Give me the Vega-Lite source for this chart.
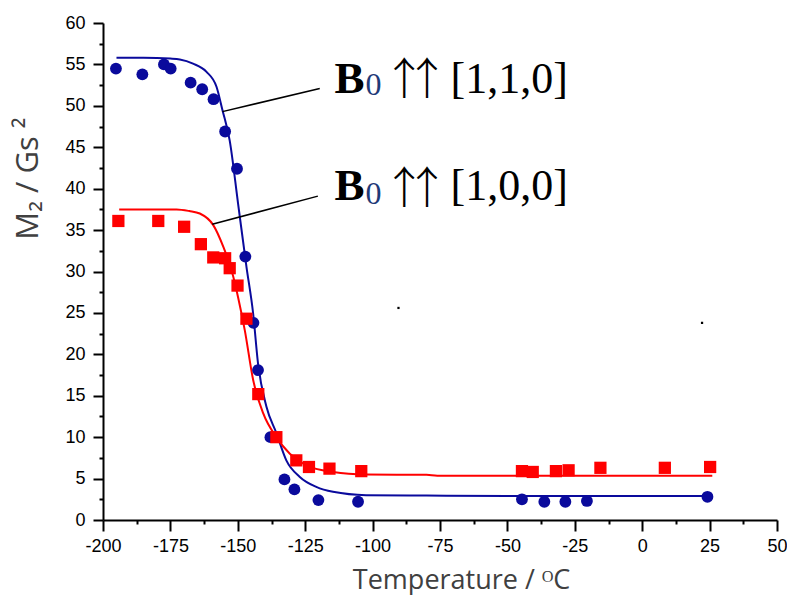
{
  "$schema": "https://vega.github.io/schema/vega-lite/v6.json",
  "width": 674,
  "height": 497,
  "autosize": {"type": "none"},
  "padding": {"left": 103, "top": 23, "right": 10, "bottom": 75},
  "background": "white",
  "config": {"view": {"stroke": null}},
  "datasets": {
    "fit": [
      {"series": "110", "x": -195, "y": 55.8}, {"series": "110", "x": -185, "y": 55.8}, {"series": "110", "x": -175, "y": 55.7},
      {"series": "110", "x": -171.5, "y": 55.6}, {"series": "110", "x": -166.6, "y": 55.1}, {"series": "110", "x": -161.6, "y": 54.1},
      {"series": "110", "x": -157.9, "y": 52.3}, {"series": "110", "x": -155.7, "y": 49.5}, {"series": "110", "x": -153, "y": 45.8},
      {"series": "110", "x": -149.9, "y": 38.2}, {"series": "110", "x": -146.8, "y": 30.6}, {"series": "110", "x": -144.3, "y": 24.9},
      {"series": "110", "x": -142.5, "y": 18.9}, {"series": "110", "x": -139.4, "y": 13.7}, {"series": "110", "x": -135.7, "y": 10.5},
      {"series": "110", "x": -132, "y": 7.2}, {"series": "110", "x": -127, "y": 5.2}, {"series": "110", "x": -120.9, "y": 4.0},
      {"series": "110", "x": -114.7, "y": 3.4}, {"series": "110", "x": -102.4, "y": 3.0}, {"series": "110", "x": -80, "y": 2.95},
      {"series": "110", "x": -50, "y": 2.9}, {"series": "110", "x": 0, "y": 2.9}, {"series": "110", "x": 24, "y": 2.9},
      {"series": "100", "x": -194, "y": 37.5}, {"series": "100", "x": -180, "y": 37.5}, {"series": "100", "x": -172.7, "y": 37.5},
      {"series": "100", "x": -168, "y": 37.3}, {"series": "100", "x": -164.1, "y": 37.0}, {"series": "100", "x": -159.1, "y": 35.6},
      {"series": "100", "x": -155.4, "y": 33.0}, {"series": "100", "x": -151.7, "y": 29.4}, {"series": "100", "x": -149.9, "y": 26.9},
      {"series": "100", "x": -147.4, "y": 22.9}, {"series": "100", "x": -144.3, "y": 16.9}, {"series": "100", "x": -140.6, "y": 12.9},
      {"series": "100", "x": -135.7, "y": 10.0}, {"series": "100", "x": -130.7, "y": 8.0}, {"series": "100", "x": -124.6, "y": 6.6},
      {"series": "100", "x": -114.7, "y": 5.8}, {"series": "100", "x": -102.4, "y": 5.5}, {"series": "100", "x": -80, "y": 5.45},
      {"series": "100", "x": -76, "y": 5.35}, {"series": "100", "x": 0, "y": 5.35}, {"series": "100", "x": 26, "y": 5.35}
    ],
    "points": [
      {"series": "110", "x": -195.2, "y": 54.5}, {"series": "110", "x": -185.4, "y": 53.8}, {"series": "110", "x": -177.4, "y": 55.0},
      {"series": "110", "x": -174.9, "y": 54.5}, {"series": "110", "x": -167.5, "y": 52.8}, {"series": "110", "x": -163.2, "y": 52.0},
      {"series": "110", "x": -159.0, "y": 50.8}, {"series": "110", "x": -154.7, "y": 46.9}, {"series": "110", "x": -150.3, "y": 42.4},
      {"series": "110", "x": -147.2, "y": 31.8}, {"series": "110", "x": -144.2, "y": 23.8}, {"series": "110", "x": -142.5, "y": 18.1},
      {"series": "110", "x": -137.9, "y": 10.0}, {"series": "110", "x": -132.7, "y": 4.9}, {"series": "110", "x": -129.0, "y": 3.7},
      {"series": "110", "x": -120.1, "y": 2.4}, {"series": "110", "x": -105.4, "y": 2.2}, {"series": "110", "x": -44.6, "y": 2.5},
      {"series": "110", "x": -36.3, "y": 2.2}, {"series": "110", "x": -28.5, "y": 2.2}, {"series": "110", "x": -20.5, "y": 2.3},
      {"series": "110", "x": 24.2, "y": 2.8},
      {"series": "100", "x": -194.3, "y": 36.1}, {"series": "100", "x": -179.5, "y": 36.1}, {"series": "100", "x": -169.9, "y": 35.4},
      {"series": "100", "x": -163.7, "y": 33.3}, {"series": "100", "x": -159.1, "y": 31.7}, {"series": "100", "x": -154.7, "y": 31.6},
      {"series": "100", "x": -153.0, "y": 30.4}, {"series": "100", "x": -150.1, "y": 28.3}, {"series": "100", "x": -146.8, "y": 24.3},
      {"series": "100", "x": -142.4, "y": 15.2}, {"series": "100", "x": -135.7, "y": 10.0}, {"series": "100", "x": -128.3, "y": 7.2},
      {"series": "100", "x": -123.6, "y": 6.4}, {"series": "100", "x": -116.0, "y": 6.2}, {"series": "100", "x": -104.2, "y": 5.9},
      {"series": "100", "x": -44.6, "y": 5.9}, {"series": "100", "x": -40.6, "y": 5.8}, {"series": "100", "x": -32.0, "y": 5.9},
      {"series": "100", "x": -27.3, "y": 6.0}, {"series": "100", "x": -15.5, "y": 6.3}, {"series": "100", "x": 8.4, "y": 6.3},
      {"series": "100", "x": 25.2, "y": 6.4}
    ],
    "leaders": [
      {"x": -155.7, "y": 49.3, "x2": -119.6, "y2": 52.1},
      {"x": -159.5, "y": 35.7, "x2": -120.3, "y2": 39.1}
    ],
    "labelB": [
      {"x": -114.1, "y": 51.6, "t": "B"},
      {"x": -114.1, "y": 38.6, "t": "B"}
    ],
    "labelSub": [
      {"x": -102.6, "y": 51.3, "t": "0"},
      {"x": -102.6, "y": 38.2, "t": "0"}
    ],
    "arrows": [
      {"x": -88.3, "y": 51.3, "t": "↑"},
      {"x": -79.8, "y": 51.3, "t": "↑"},
      {"x": -88.3, "y": 38.2, "t": "↑"},
      {"x": -79.8, "y": 38.2, "t": "↑"}
    ],
    "labelRest": [
      {"x": -71.1, "y": 51.6, "t": "[1,1,0]"},
      {"x": -71.1, "y": 38.6, "t": "[1,0,0]"}
    ],
    "specks": [
      {"x": -90.4, "y": 25.6},
      {"x": 22.2, "y": 23.8}
    ]
  },
  "resolve": {"axis": {"x": "independent", "y": "independent"}},
  "layer": [
    {
      "data": {"name": "fit"},
      "mark": {"type": "line", "strokeWidth": 2, "interpolate": "monotone", "clip": true},
      "encoding": {
        "x": {
          "field": "x", "type": "quantitative",
          "scale": {"domain": [-200, 50], "nice": false, "zero": false},
          "axis": {
            "orient": "bottom",
            "values": [-200, -175, -150, -125, -100, -75, -50, -25, 0, 25, 50],
            "labelExpr": "'' + datum.value",
            "tickSize": 11, "tickWidth": 2, "tickColor": "black", "domainWidth": 2, "domainColor": "black",
            "grid": false, "labelFont": "Liberation Sans", "labelFontSize": 18, "labelColor": "black",
            "labelPadding": 6, "labelFlush": false, "labelOverlap": false,
            "title": "Temperature / ᴼC", "titleFont": "Open Sans", "titleFontSize": 27, "titleFontWeight": "normal",
            "titleColor": "#404040", "titleX": 358, "titleY": 68, "titleBaseline": "alphabetic", "titleAlign": "center"
          }
        },
        "y": {
          "field": "y", "type": "quantitative",
          "scale": {"domain": [0, 60], "nice": false, "zero": false},
          "axis": {
            "orient": "left",
            "values": [0, 5, 10, 15, 20, 25, 30, 35, 40, 45, 50, 55, 60],
            "labelExpr": "'' + datum.value",
            "tickSize": 10, "tickWidth": 2, "tickColor": "black", "domainWidth": 2, "domainColor": "black",
            "grid": false, "labelFont": "Liberation Sans", "labelFontSize": 18, "labelColor": "black",
            "labelPadding": 8, "labelFlush": false, "labelOverlap": false,
            "title": "M₂ / Gs ²", "titleFont": "Open Sans", "titleFontSize": 31, "titleFontWeight": "normal",
            "titleColor": "#404040", "titleX": -66, "titleY": 155, "titleAngle": -90, "titleAlign": "center", "titleBaseline": "alphabetic"
          }
        },
        "color": {"field": "series", "type": "nominal", "scale": {"domain": ["110", "100"], "range": ["#0a0a9c", "#ff0000"]}, "legend": null},
        "detail": {"field": "series"}
      }
    },
    {
      "data": {"name": "points"},
      "transform": [{"filter": "datum.series === '110'"}],
      "mark": {"type": "point", "shape": "circle", "filled": true, "size": 140, "opacity": 1, "color": "#0a0a9c"},
      "encoding": {
        "x": {"field": "x", "type": "quantitative", "axis": {
          "orient": "bottom",
          "values": [-187.5, -162.5, -137.5, -112.5, -87.5, -62.5, -37.5, -12.5, 12.5, 37.5],
          "labels": false, "domain": false, "grid": false, "title": null,
          "tickSize": 4, "tickWidth": 2, "tickColor": "black"
        }},
        "y": {"field": "y", "type": "quantitative", "axis": {
          "orient": "left",
          "values": [2.5, 7.5, 12.5, 17.5, 22.5, 27.5, 32.5, 37.5, 42.5, 47.5, 52.5, 57.5],
          "labels": false, "domain": false, "grid": false, "title": null,
          "tickSize": 4, "tickWidth": 2, "tickColor": "black"
        }}
      }
    },
    {
      "data": {"name": "points"},
      "transform": [{"filter": "datum.series === '100'"}],
      "mark": {"type": "point", "shape": "square", "filled": true, "size": 150, "opacity": 1, "color": "#ff0000"},
      "encoding": {
        "x": {"field": "x", "type": "quantitative", "axis": null},
        "y": {"field": "y", "type": "quantitative", "axis": null}
      }
    },
    {
      "data": {"name": "leaders"},
      "mark": {"type": "rule", "color": "black", "strokeWidth": 1.5},
      "encoding": {
        "x": {"field": "x", "type": "quantitative", "axis": null},
        "y": {"field": "y", "type": "quantitative", "axis": null},
        "x2": {"field": "x2"},
        "y2": {"field": "y2"}
      }
    },
    {
      "data": {"name": "labelB"},
      "mark": {"type": "text", "font": "Liberation Serif", "fontSize": 45, "fontWeight": "bold", "align": "left", "baseline": "alphabetic", "color": "black"},
      "encoding": {
        "x": {"field": "x", "type": "quantitative", "axis": null},
        "y": {"field": "y", "type": "quantitative", "axis": null},
        "text": {"field": "t"}
      }
    },
    {
      "data": {"name": "labelSub"},
      "mark": {"type": "text", "font": "Liberation Serif", "fontSize": 32, "align": "left", "baseline": "alphabetic", "color": "#1f3a78"},
      "encoding": {
        "x": {"field": "x", "type": "quantitative", "axis": null},
        "y": {"field": "y", "type": "quantitative", "axis": null},
        "text": {"field": "t"}
      }
    },
    {
      "data": {"name": "arrows"},
      "mark": {"type": "text", "font": "Noto Sans CJK JP", "fontSize": 44, "fontWeight": 300, "align": "center", "baseline": "alphabetic", "color": "black"},
      "encoding": {
        "x": {"field": "x", "type": "quantitative", "axis": null},
        "y": {"field": "y", "type": "quantitative", "axis": null},
        "text": {"field": "t"}
      }
    },
    {
      "data": {"name": "labelRest"},
      "mark": {"type": "text", "font": "Liberation Serif", "fontSize": 44, "align": "left", "baseline": "alphabetic", "color": "black"},
      "encoding": {
        "x": {"field": "x", "type": "quantitative", "axis": null},
        "y": {"field": "y", "type": "quantitative", "axis": null},
        "text": {"field": "t"}
      }
    },
    {
      "data": {"name": "specks"},
      "mark": {"type": "point", "shape": "square", "filled": true, "size": 5, "color": "black", "opacity": 1},
      "encoding": {
        "x": {"field": "x", "type": "quantitative", "axis": null},
        "y": {"field": "y", "type": "quantitative", "axis": null}
      }
    }
  ]
}
